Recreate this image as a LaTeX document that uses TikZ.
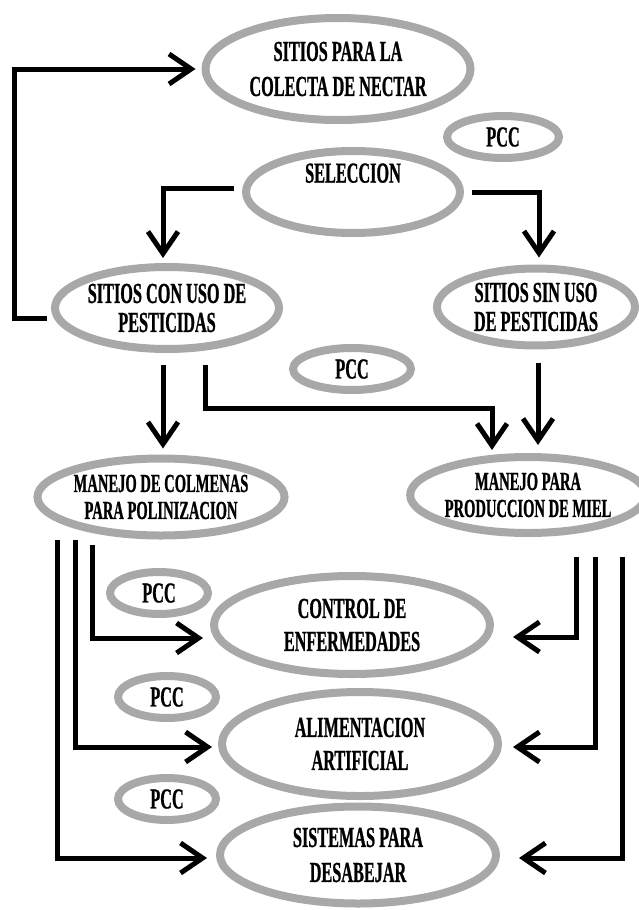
\documentclass[tikz,border=0pt]{standalone}
\usepackage{fontspec}
\setmainfont{Liberation Serif}[FakeStretch=0.56, BoldFeatures={FakeBold=0.8}]
\usepackage{tikz}
\usetikzlibrary{shapes, arrows, arrows.meta, calc}
\definecolor{ovalgray}{RGB}{168,168,168}
\newcommand\ovalfont{\fontsize{29}{27}\selectfont\bfseries}
\newcommand\minorfont{\fontsize{26}{27}\selectfont\bfseries}
\tikzstyle{oval} = [ellipse, draw=ovalgray, line width=8pt, fill=white,
    inner sep=0pt, align=center, font=\ovalfont]
\tikzstyle{pcc} = [oval, minimum width=98pt, minimum height=42pt]
\tikzstyle{line} = [draw, line width=5pt, -{Straight Barb[length=22pt,width=30pt]}]

\begin{document}
\begin{tikzpicture}[x=1pt, y=-1pt, node distance = 100pt, auto]
    \useasboundingbox (0,0) rectangle (638,910);
    % Nodes
    \node[oval, minimum width=265pt, minimum height=102pt] (nectar) at (338,69)
        {SITIOS PARA LA\\[8pt]COLECTA DE NECTAR};
    \node[pcc, minimum width=112pt] (pccsel) at (503,137) {PCC};
    \node[oval, minimum width=214pt, minimum height=82pt, text depth=38pt] (selec) at (353,192) {SELECCION};
    \node[oval, minimum width=220pt, minimum height=82pt] (conuso) at (167,308)
        {SITIOS CON USO DE\\[2pt]PESTICIDAS};
    \node[oval, minimum width=198pt, minimum height=77pt] (sinuso) at (536,307)
        {SITIOS SIN USO\\[2pt]DE PESTICIDAS};
    \node[pcc, minimum width=118pt] (pccuso) at (352,369) {PCC};
    \node[oval, font=\minorfont, minimum width=214pt, minimum height=77pt] (colmenas) at (161,497)
        {MANEJO DE COLMENAS\\PARA POLINIZACION};
    \node[oval, font=\minorfont, minimum width=208pt, minimum height=76pt] (miel) at (528,495)
        {MANEJO PARA\\PRODUCCION DE MIEL};
    \node[oval, minimum width=276pt, minimum height=98pt] (control) at (352,625)
        {CONTROL DE\\[6pt]ENFERMEDADES};
    \node[oval, below of=control, node distance=119pt, xshift=8pt,
          minimum width=276pt, minimum height=104pt] (alimento) {ALIMENTACION\\[6pt]ARTIFICIAL};
    \node[oval, below of=alimento, node distance=111pt, xshift=-2pt,
          minimum width=276pt, minimum height=97pt] (desabejar) {SISTEMAS PARA\\[8pt]DESABEJAR};
    \node[pcc] (pcccontrol) at (159,593) {PCC};
    \node[pcc, below of=pcccontrol, node distance=104pt, xshift=8pt] (pccalimento) {PCC};
    \node[pcc, below of=pccalimento, node distance=102pt] (pccdesabejar) {PCC};

    % Edges
    \path[line, shorten <=4pt, shorten >=6pt] ([yshift=-10pt]conuso.west) -- ++(-37,0) |- (nectar.west);
    \path[line, shorten <=8pt, shorten >=5pt] ([yshift=4pt]selec.west) -| ([xshift=-4pt]conuso.north);
    \path[line, shorten <=8pt, shorten >=7pt] (selec.east) -| ([xshift=3pt]sinuso.north);
    \path[line, shorten <=12pt, shorten >=6pt] ([xshift=2pt]colmenas.north |- conuso.south) -- ([xshift=2pt]colmenas.north);
    \path[line, shorten <=12pt, shorten >=3pt] ([xshift=38pt]conuso.south) -- ++(0,55) -| ([xshift=-36pt]miel.north);
    \path[line, shorten <=13pt, shorten >=8pt] ([xshift=10pt]miel.north |- sinuso.south) -- ([xshift=10pt]miel.north);
    \path[line, shorten >=7pt] ([xshift=-69pt,yshift=-5pt]colmenas.south) |- ([yshift=-13pt]control.west);
    \path[line, shorten >=6pt] ([xshift=-86pt]colmenas.south) |- ([yshift=-3pt]alimento.west);
    \path[line, shorten >=9pt] ([xshift=-104pt]colmenas.south) |- ([yshift=-3pt]desabejar.west);
    \path[line, shorten >=19pt] ([xshift=48pt,yshift=-20pt]miel.south) |- ([yshift=-12pt]control.east);
    \path[line, shorten >=11pt] ([xshift=67pt,yshift=-20pt]miel.south) |- ([yshift=-3pt]alimento.east);
    \path[line, shorten >=19pt] ([xshift=94pt,yshift=-20pt]miel.south) |- ([yshift=-3pt]desabejar.east);
\end{tikzpicture}
\end{document}
